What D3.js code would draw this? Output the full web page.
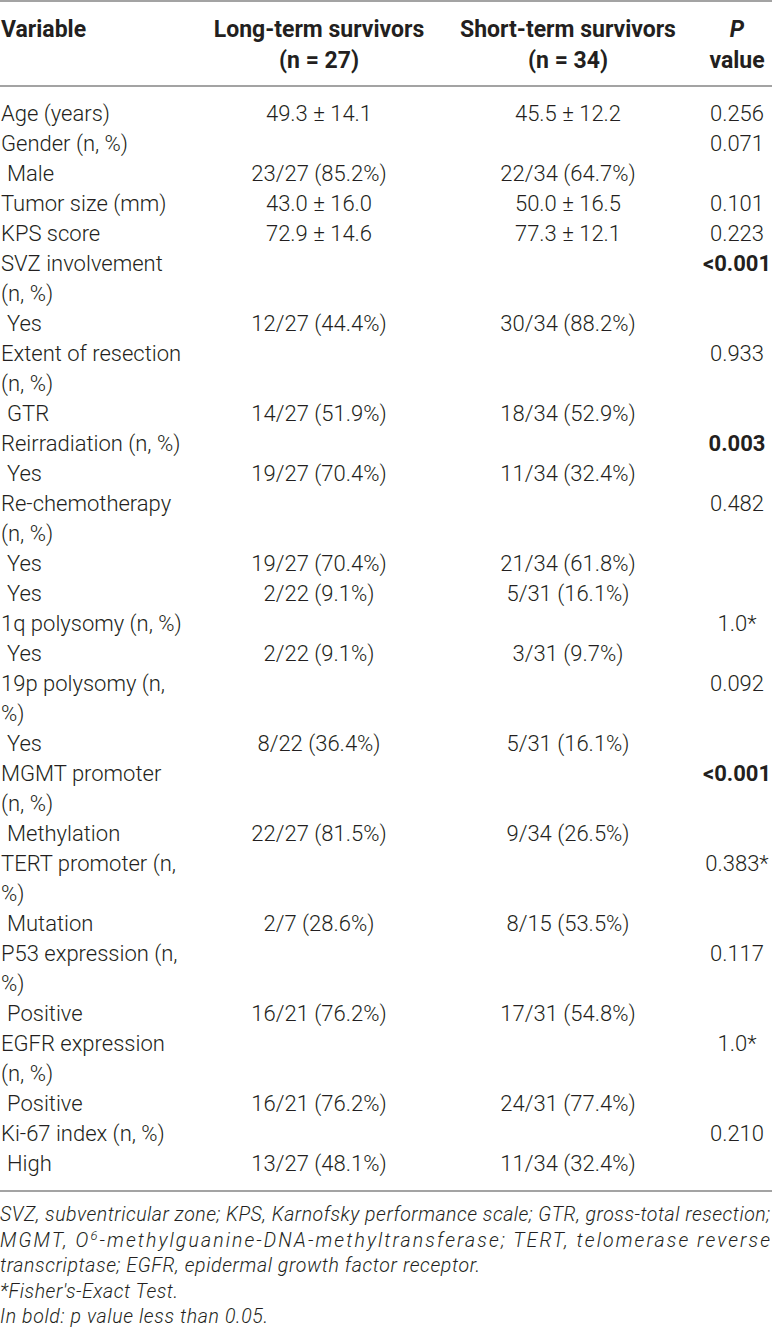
<!DOCTYPE html>
<html lang="en">
  <head>
    <meta charset="UTF-8" />
    <title>Long-term vs short-term survivors</title>
    <style>
      body {
        margin: 0;
        background: #fff;
      }
      text {
        fill: #231f20;
        font-family: Roboto, "Liberation Sans", sans-serif;
      }
    </style>
  </head>
  <body>
    <svg id="table" width="772" height="1339"></svg>
    <script src="https://d3js.org/d3.v7.min.js"></script>
    <script>
      // table content, one entry per printed line
      var rowLabels = [
        "Age (years)", "Gender (n, %)", " Male", "Tumor size (mm)", "KPS score",
        "SVZ involvement", "(n, %)", " Yes", "Extent of resection", "(n, %)", " GTR",
        "Reirradiation (n, %)", " Yes", "Re-chemotherapy", "(n, %)", " Yes", " Yes",
        "1q polysomy (n, %)", " Yes", "19p polysomy (n,", "%)", " Yes",
        "MGMT promoter", "(n, %)", " Methylation", "TERT promoter (n,", "%)", " Mutation",
        "P53 expression (n,", "%)", " Positive", "EGFR expression", "(n, %)", " Positive",
        "Ki-67 index (n, %)", " High"
      ];
      var longTerm = [
        "49.3 ± 14.1", "", "23/27 (85.2%)", "43.0 ± 16.0", "72.9 ± 14.6",
        "", "", "12/27 (44.4%)", "", "", "14/27 (51.9%)",
        "", "19/27 (70.4%)", "", "", "19/27 (70.4%)", "2/22 (9.1%)",
        "", "2/22 (9.1%)", "", "", "8/22 (36.4%)",
        "", "", "22/27 (81.5%)", "", "", "2/7 (28.6%)",
        "", "", "16/21 (76.2%)", "", "", "16/21 (76.2%)",
        "", "13/27 (48.1%)"
      ];
      var shortTerm = [
        "45.5 ± 12.2", "", "22/34 (64.7%)", "50.0 ± 16.5", "77.3 ± 12.1",
        "", "", "30/34 (88.2%)", "", "", "18/34 (52.9%)",
        "", "11/34 (32.4%)", "", "", "21/34 (61.8%)", "5/31 (16.1%)",
        "", "3/31 (9.7%)", "", "", "5/31 (16.1%)",
        "", "", "9/34 (26.5%)", "", "", "8/15 (53.5%)",
        "", "", "17/31 (54.8%)", "", "", "24/31 (77.4%)",
        "", "11/34 (32.4%)"
      ];
      var pValues = [
        "0.256", "0.071", "", "0.101", "0.223",
        "<0.001", "", "", "0.933", "", "",
        "0.003", "", "0.482", "", "", "",
        "1.0*", "", "0.092", "", "",
        "<0.001", "", "", "0.383*", "", "",
        "0.117", "", "", "1.0*", "", "",
        "0.210", ""
      ];
      var headerLines = [
        ["Variable", "Long-term survivors", "Short-term survivors", "P"],
        ["", "(n = 27)", "(n = 34)", "value"]
      ];
      var footLines = [
        "SVZ, subventricular zone; KPS, Karnofsky performance scale; GTR, gross-total resection;",
        "MGMT, O|6|-methylguanine-DNA-methyltransferase; TERT, telomerase reverse",
        "transcriptase; EGFR, epidermal growth factor receptor.",
        "*Fisher's-Exact Test.",
        "In bold: p value less than 0.05."
      ];

      var svg = d3.select("#table");
      var W = 772;

      // column centres
      var colX = [1, 319, 568, 737];
      var fs = 22;
      // printed widths of the footnote lines
      var footWidth = [W - 2, W - 2, 480, 178, 268];

      var y = d3.scaleLinear().domain([0, rowLabels.length - 1]).range([113, 1163]);
      var yHead = d3.scaleLinear().domain([0, 1]).range([29, 60]);
      var yFoot = d3.scaleLinear().domain([0, footLines.length - 1]).range([1214, 1316]);

      // rules
      [1, 86, 1191].forEach(function (ly) {
        svg.append("line")
          .attr("x1", 0).attr("x2", W)
          .attr("y1", ly).attr("y2", ly)
          .attr("stroke", "#a3a3a3")
          .attr("stroke-width", 2);
      });

      // header
      headerLines.forEach(function (line, li) {
        line.forEach(function (t, ci) {
          if (!t) return;
          svg.append("text")
            .attr("x", colX[ci])
            .attr("y", yHead(li))
            .attr("dy", "0.36em")
            .attr("text-anchor", ci === 0 ? "start" : "middle")
            .style("font-size", "23px")
            .style("font-weight", 700)
            .style("font-style", t === "P" ? "italic" : "normal")
            .text(t);
        });
      });

      // body
      var g = svg.append("g").style("font-size", fs + "px").style("font-weight", 300);

      g.selectAll(".lab")
        .data(rowLabels)
        .join("text")
        .attr("class", "lab")
        .attr("x", function (d) { return d.charAt(0) === " " ? colX[0] + 6 : colX[0]; })
        .attr("y", function (d, i) { return y(i); })
        .attr("dy", "0.36em")
        .text(function (d) { return d.trim(); });

      [longTerm, shortTerm].forEach(function (col, k) {
        g.selectAll(".c" + k)
          .data(col)
          .join("text")
          .attr("class", "c" + k)
          .attr("x", colX[k + 1])
          .attr("y", function (d, i) { return y(i); })
          .attr("dy", "0.36em")
          .attr("text-anchor", "middle")
          .text(function (d) { return d; });
      });

      g.selectAll(".p")
        .data(pValues)
        .join("text")
        .attr("class", "p")
        .attr("x", colX[3])
        .attr("y", function (d, i) { return y(i); })
        .attr("dy", "0.36em")
        .attr("text-anchor", "middle")
        .style("font-weight", function (d) {
          return d && parseFloat(d.replace(/[<*]/g, "")) < 0.05 ? 700 : 300;
        })
        .text(function (d) { return d; });

      // footnotes
      var ft = svg.append("g")
        .style("font-size", "19.5px")
        .style("font-style", "italic")
        .style("font-weight", 300);

      footLines.forEach(function (line, i) {
        var t = ft.append("text")
          .attr("x", 0)
          .attr("y", yFoot(i))
          .attr("dy", "0.36em")
          .attr("textLength", footWidth[i])
          .attr("lengthAdjust", "spacing");
        line.split("|").forEach(function (part, j) {
          var s = t.append("tspan").text(part);
          if (j === 1) s.attr("baseline-shift", "super").style("font-size", "13px");
        });
      });
    </script>
  </body>
</html>
